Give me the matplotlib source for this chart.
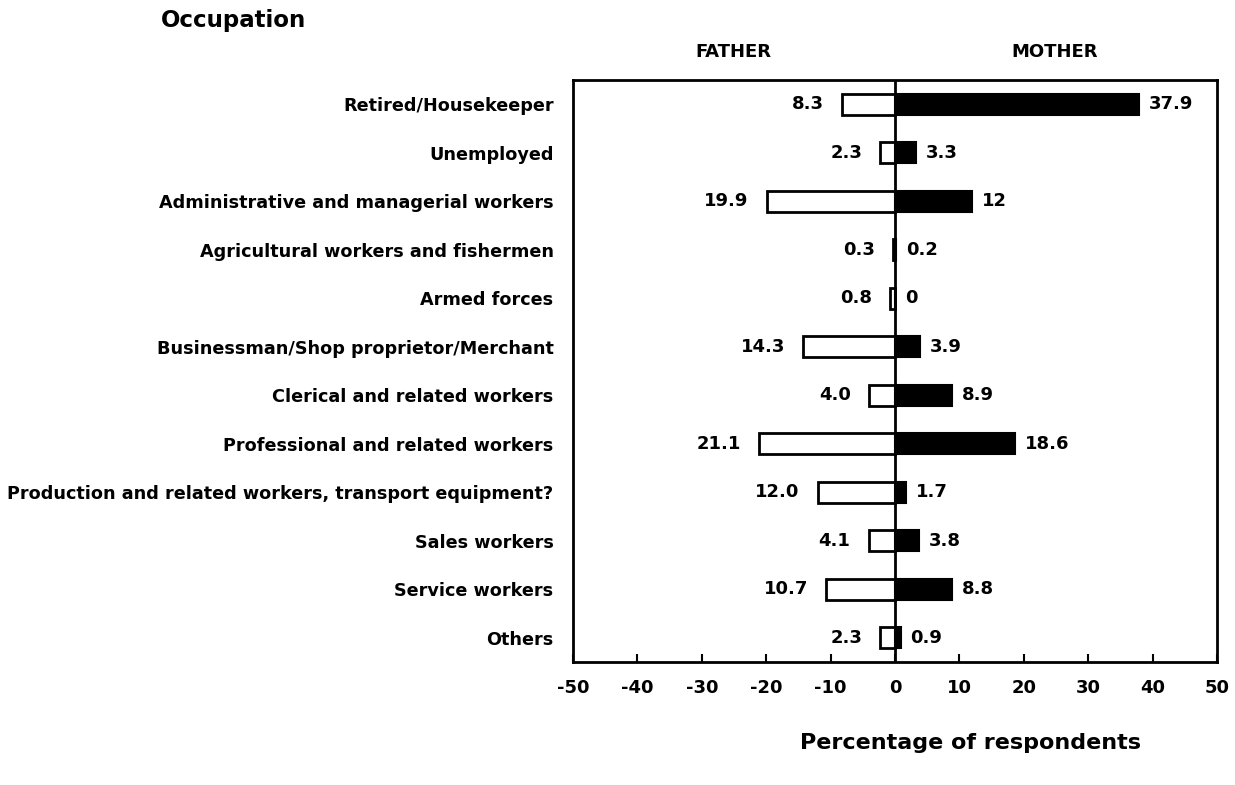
import matplotlib
matplotlib.use("Agg")
import matplotlib.pyplot as plt
import numpy as np

plt.rcParams['font.family'] = ['DejaVu Sans']
plt.rcParams['font.weight'] = 'bold'

occupations = ["Retired/Housekeeper", "Unemployed",
               "Administrative and managerial workers",
               "Agricultural workers and fishermen", "Armed forces",
               "Businessman/Shop proprietor/Merchant",
               "Clerical and related workers",
               "Professional and related workers",
               "Production and related workers, transport equipment?",
               "Sales workers", "Service workers", "Others"]
father = [8.3, 2.3, 19.9, 0.3, 0.8, 14.3, 4.0, 21.1, 12.0, 4.1, 10.7, 2.3]
mother = [37.9, 3.3, 12, 0.2, 0, 3.9, 8.9, 18.6, 1.7, 3.8, 8.8, 0.9]
father_lbl = ["8.3", "2.3", "19.9", "0.3", "0.8", "14.3", "4.0", "21.1", "12.0", "4.1", "10.7", "2.3"]
mother_lbl = ["37.9", "3.3", "12", "0.2", "0", "3.9", "8.9", "18.6", "1.7", "3.8", "8.8", "0.9"]
xticks = np.arange(-50, 51, 10)

fig = plt.figure(figsize=(12.35, 7.85), dpi=100)
ax = fig.add_axes([573/1235, 1-662/785, 644/1235, 582/785])

y = np.arange(len(occupations))
ax.barh(y, [-v for v in father], height=0.44, color='white', edgecolor='black', linewidth=2, zorder=2)
ax.barh(y, mother, height=0.44, color='black', edgecolor='black', linewidth=1.5, zorder=2)
ax.axvline(0, color='black', linewidth=2, zorder=3)

for i in range(len(occupations)):
    ax.annotate(father_lbl[i], (-father[i], y[i]), xytext=(-13, 0), textcoords='offset points',
                ha='right', va='center', fontsize=13, fontweight='bold')
    ax.annotate(mother_lbl[i], (mother[i], y[i]), xytext=(7, 0), textcoords='offset points',
                ha='left', va='center', fontsize=13, fontweight='bold')

ax.set_xlim(-50, 50)
ax.set_ylim(len(occupations) - 0.5, -0.5)
ax.set_xticks(xticks)
ax.set_xticklabels([str(t) for t in xticks], fontsize=13, fontweight='bold')
ax.tick_params(axis='x', direction='in', length=6, width=1.5, pad=12)
ax.set_yticks(y)
ax.set_yticklabels(occupations, fontsize=12.7, fontweight='bold')
ax.tick_params(axis='y', length=0, pad=14)
for s in ax.spines.values():
    s.set_linewidth(2)

fig.text(233/1235, 1-20/785, "Occupation", ha='center', va='center', fontsize=16.5, fontweight='bold')
fig.text(733/1235, 1-52/785, "FATHER", ha='center', va='center', fontsize=13, fontweight='bold')
fig.text(1055/1235, 1-52/785, "MOTHER", ha='center', va='center', fontsize=13, fontweight='bold')
fig.text(970/1235, 1-743/785, "Percentage of respondents", ha='center', va='center', fontsize=16, fontweight='bold')

fig.savefig("out.png", dpi=100)
